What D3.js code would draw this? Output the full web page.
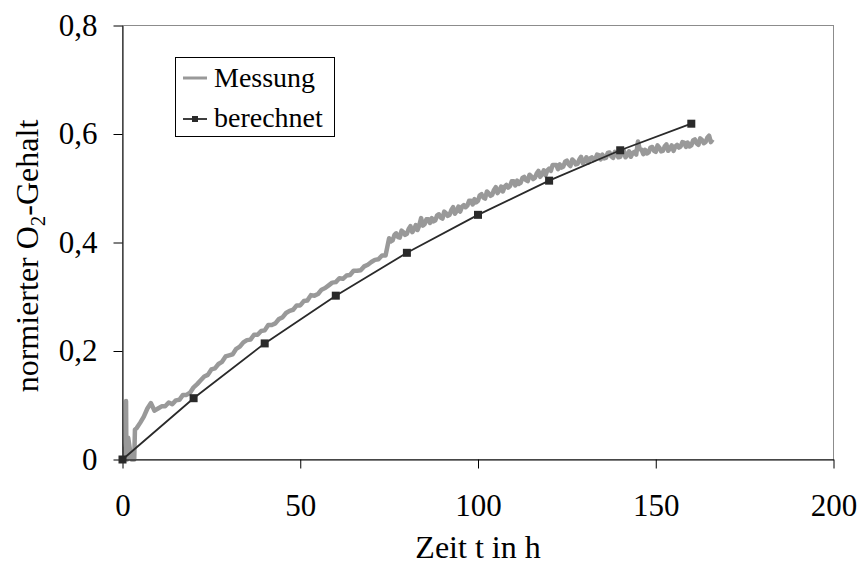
<!DOCTYPE html>
<html>
<head>
<meta charset="utf-8">
<script src="https://cdn.jsdelivr.net/npm/d3@7"></script>
<style>
  html, body { margin: 0; padding: 0; background: #fff; }
  svg { display: block; }
  text { font-family: "Liberation Serif", "Times New Roman", serif; fill: #000; }
</style>
</head>
<body>
<svg id="chart" width="860" height="572"></svg>
<script>
// ---- data ----
const xTicks = [0, 50, 100, 150, 200];
const yTicks = [0, 0.2, 0.4, 0.6, 0.8];

// berechnet (calculated) points
const calcTime = [0, 20, 40, 60, 80, 100, 120, 140, 160];
const calcValue = [0, 0.113, 0.214, 0.302, 0.381, 0.451, 0.514, 0.570, 0.619];

// Messung (measurement) - start-up phase (irregular samples)
const measEarlyTime  = [0, 0.5, 0.9, 1.0, 1.1, 1.3, 1.6, 2.5, 3.3, 3.5];
const measEarlyValue = [0, 0.002, 0.030, 0.108, 0.002, 0.000, 0.040, 0.000, 0.000, 0.055];

// Messung - hourly samples from t = 4 h to t = 166 h
const measHourStart = 4;
const measHourValue = [
  0.058, 0.068, 0.079, 0.094, 0.104, 0.090, 0.094,                 // 4-10
  0.098, 0.098, 0.105, 0.102, 0.109, 0.110, 0.119, 0.119, 0.123, 0.133, // 11-20
  0.139, 0.146, 0.153, 0.156, 0.166, 0.168, 0.176, 0.180, 0.190, 0.192, // 21-30
  0.194, 0.204, 0.208, 0.216, 0.220, 0.221, 0.230, 0.230, 0.237, 0.238, // 31-40
  0.248, 0.248, 0.251, 0.259, 0.262, 0.270, 0.274, 0.276, 0.284, 0.284, // 41-50
  0.292, 0.293, 0.303, 0.302, 0.305, 0.313, 0.316, 0.321, 0.326, 0.327, // 51-60
  0.334, 0.333, 0.339, 0.340, 0.348, 0.348, 0.349, 0.356, 0.359, 0.364, // 61-70
  0.368, 0.369, 0.376, 0.376, 0.408, 0.404, 0.417, 0.409, 0.419, 0.416, // 71-80
  0.430, 0.424, 0.423, 0.445, 0.434, 0.443, 0.445, 0.441, 0.452, 0.444, // 81-90
  0.454, 0.451, 0.465, 0.458, 0.457, 0.469, 0.468, 0.477, 0.480, 0.477, // 91-100
  0.489, 0.481, 0.491, 0.488, 0.502, 0.496, 0.494, 0.506, 0.504, 0.513, // 101-110
  0.514, 0.510, 0.521, 0.513, 0.522, 0.519, 0.532, 0.526, 0.524, 0.536, // 111-120
  0.543, 0.543, 0.544, 0.540, 0.551, 0.541, 0.550, 0.545, 0.558, 0.550, // 121-130
  0.547, 0.557, 0.554, 0.561, 0.562, 0.556, 0.566, 0.556, 0.563, 0.558, // 131-140
  0.570, 0.561, 0.558, 0.567, 0.586, 0.571, 0.571, 0.566, 0.576, 0.567, // 141-150
  0.575, 0.569, 0.581, 0.573, 0.569, 0.580, 0.577, 0.584, 0.584, 0.579, // 151-160
  0.590, 0.580, 0.589, 0.585, 0.597, 0.590                              // 161-166
];

// Messung - half-hour samples from t = 75.5 h to t = 165.5 h (noisy phase)
const measHalfStart = 75.5;
const measHalfValue = [
  0.402, 0.414, 0.410, 0.422, 0.414, 0.425, 0.419, 0.432, 0.432, 0.431, // 75.5-84.5
  0.443, 0.436, 0.439, 0.450, 0.446, 0.457, 0.449, 0.460, 0.453, 0.466, // 85.5-94.5
  0.466, 0.465, 0.477, 0.470, 0.474, 0.487, 0.483, 0.494, 0.486, 0.497, // 95.5-104.5
  0.491, 0.503, 0.503, 0.501, 0.513, 0.505, 0.508, 0.519, 0.515, 0.525, // 105.5-114.5
  0.517, 0.527, 0.521, 0.533, 0.533, 0.532, 0.543, 0.535, 0.538, 0.549, // 115.5-124.5
  0.544, 0.553, 0.544, 0.553, 0.546, 0.557, 0.555, 0.552, 0.562, 0.553, // 125.5-134.5
  0.555, 0.565, 0.559, 0.567, 0.557, 0.566, 0.557, 0.568, 0.565, 0.562, // 135.5-144.5
  0.572, 0.563, 0.564, 0.575, 0.569, 0.579, 0.568, 0.577, 0.569, 0.579, // 145.5-154.5
  0.577, 0.575, 0.585, 0.576, 0.577, 0.588, 0.583, 0.592, 0.583, 0.593, // 155.5-164.5
  0.585                                                                 // 165.5
];

const seriesNames = ["Messung", "berechnet"];
const axisTitleX = "Zeit t in h";

// ---- layout ----
const svg = d3.select("#chart");
const plotL = 122.5, plotR = 833.5, plotT = 25.5, plotB = 459.5;

const x = d3.scaleLinear().domain([0, 200]).range([plotL, plotR]);
const y = d3.scaleLinear().domain([0, 0.8]).range([plotB, plotT]);

const fmt = d => d === 0 ? "0" : d3.format(".1f")(d).replace(".", ",");

// plot frame (grey top/right border)
svg.append("rect")
  .attr("x", plotL).attr("y", plotT)
  .attr("width", plotR - plotL).attr("height", plotB - plotT)
  .attr("fill", "none").attr("stroke", "#8c8c8c").attr("stroke-width", 1);

// measurement series
const measData = measEarlyTime.map((t, i) => [t, measEarlyValue[i]])
  .concat(measHourValue.map((v, i) => [measHourStart + i, v]))
  .concat(measHalfValue.map((v, i) => [measHalfStart + i, v]))
  .sort((a, b) => a[0] - b[0]);

const line = d3.line().x(d => x(d[0])).y(d => y(d[1]));

svg.append("path")
  .datum(measData)
  .attr("d", line)
  .attr("fill", "none")
  .attr("stroke", "#999999")
  .attr("stroke-width", 4.5)
  .attr("stroke-linejoin", "round");

// axes
const yAxis = d3.axisLeft(y).tickValues(yTicks).tickFormat(fmt)
  .tickSize(9).tickSizeOuter(0).tickPadding(16);
const gy = svg.append("g").attr("transform", `translate(${plotL},0)`).call(yAxis);

const xAxis = d3.axisBottom(x).tickValues(xTicks).tickFormat(d3.format("d"))
  .tickSize(9).tickSizeOuter(0).tickPadding(25);
const gx = svg.append("g").attr("transform", `translate(0,${plotB})`).call(xAxis);

[gx, gy].forEach(g => {
  g.selectAll("path, line").attr("stroke", "#000").attr("stroke-width", 1);
  g.selectAll("text")
    .style("font-family", "'Liberation Serif', 'Times New Roman', serif")
    .style("font-size", "31px").attr("fill", "#000");
});

// calculated series
const calcData = calcTime.map((t, i) => [t, calcValue[i]]);
svg.append("path")
  .datum(calcData)
  .attr("d", line)
  .attr("fill", "none")
  .attr("stroke", "#2a2a2a")
  .attr("stroke-width", 1.8);

svg.append("g").selectAll("rect")
  .data(calcData).join("rect")
  .attr("x", d => x(d[0]) - 4)
  .attr("y", d => y(d[1]) - 4)
  .attr("width", 8).attr("height", 8)
  .attr("fill", "#2a2a2a");

// axis titles
svg.append("text")
  .attr("x", (plotL + plotR) / 2).attr("y", 558)
  .attr("text-anchor", "middle")
  .style("font-size", "32px")
  .text(axisTitleX);

const yt = svg.append("text")
  .attr("transform", "translate(38,256) rotate(-90)")
  .attr("text-anchor", "middle")
  .style("font-size", "32px");
yt.append("tspan").text("normierter O");
yt.append("tspan").attr("dy", 7).style("font-size", "21px").text("2");
yt.append("tspan").attr("dy", -7).text("-Gehalt");

// legend
const lg = svg.append("g");
lg.append("rect")
  .attr("x", 175.5).attr("y", 57.5).attr("width", 159).attr("height", 79)
  .attr("fill", "#fff").attr("stroke", "#000").attr("stroke-width", 1);

lg.append("line")
  .attr("x1", 183).attr("x2", 207).attr("y1", 78).attr("y2", 78)
  .attr("stroke", "#999999").attr("stroke-width", 3);
lg.append("text").attr("x", 214).attr("y", 87)
  .style("font-size", "28px").text(seriesNames[0]);

lg.append("line")
  .attr("x1", 183).attr("x2", 207).attr("y1", 119).attr("y2", 119)
  .attr("stroke", "#2a2a2a").attr("stroke-width", 1.8);
lg.append("rect")
  .attr("x", 192).attr("y", 116).attr("width", 6).attr("height", 6)
  .attr("fill", "#2a2a2a");
lg.append("text").attr("x", 214).attr("y", 127)
  .style("font-size", "28px").text(seriesNames[1]);
</script>
</body>
</html>
